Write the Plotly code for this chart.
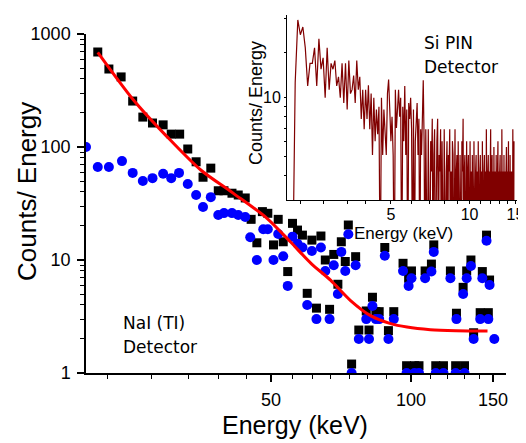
import numpy as np
import plotly.graph_objects as go

# ---------------- main plot data (NaI (Tl) detector) ----------------
nai_energy = [21.2, 22.4, 23.8, 25.2, 26.5, 27.8, 29.3, 30.5, 31.8, 33.1, 34.5, 35.7, 37.1, 38.5, 39.6,
              41.2, 42.5, 44.0, 45.3, 46.6, 47.9, 49.2, 50.6, 51.8, 53.1, 54.3, 55.6, 57.0, 58.4, 59.8,
              61.2, 62.6, 64.0, 65.4, 66.8, 68.2, 69.6, 70.8, 72.2, 73.3, 74.5, 76.0, 77.2, 80.1, 81.2,
              82.6, 84.0, 85.4, 87.8, 89.4, 91.8, 96.1, 97.8, 98.8, 100.2, 101.7, 104.0, 107.2, 110.6,
              111.9, 113.0, 117.4, 121.5, 124.7, 125.2, 129.4, 130.3, 131.7, 134.5, 136.3, 140.8, 142.3,
              145.3, 146.6, 147.5]
nai_counts = [693, 490, 417, 255, 184, 163, 157, 130, 130, 96, 74, 54, 65, 41, 41,
              39, 37.6, 35.4, 22.9, 14.2, 26.8, 25.9, 13.6, 22.9, 14.5, 7.9, 21.1, 18.4, 16.6, 5.07,
              15.0, 3.75, 16.3, 10.0, 3.66, 11.2, 6.1, 14.5, 9.7, 20.4, 1.2, 10.7, 2.4, 3.54, 2.4,
              4.68, 3.49, 3.49, 12.9, 2.37, 3.49, 9.35, 1.16, 6.9, 8.0, 1.16, 1.16, 8.0, 9.2,
              13.6, 1.16, 1.16, 8.0, 1.16, 3.38, 5.73, 1.16, 8.0, 10.0, 2.27, 3.42, 7.9,
              16.6, 3.42, 6.65]

blue_energy = [20.0, 21.2, 22.4, 23.9, 25.2, 26.5, 27.8, 29.3, 30.5, 31.7, 33.1, 34.5, 35.7, 37.1, 38.5,
               39.6, 41.2, 42.5, 44.0, 45.1, 46.6, 48.1, 49.2, 50.6, 51.8, 53.1, 54.3, 55.6, 57.0, 58.4,
               59.8, 61.2, 62.6, 64.0, 65.4, 66.8, 68.2, 69.6, 70.8, 72.2, 73.3, 74.5, 76.0, 77.2, 80.1,
               81.2, 82.6, 84.0, 85.4, 87.8, 89.4, 91.8, 96.1, 97.8, 98.8, 100.2, 101.7, 104.0, 107.2,
               110.6, 111.9, 113.0, 117.4, 121.5, 124.7, 125.2, 129.4, 130.3, 131.7, 134.5, 136.3, 140.8,
               142.3, 145.3, 146.6, 147.5, 151.0]
blue_counts = [100, 66.5, 66.5, 75, 59, 50, 53, 58, 53, 59, 47, 37.6, 29.4, 36, 25,
               26, 26, 25, 24, 15.9, 10, 18.7, 18.7, 10, 17, 10.8, 5.9, 16.1, 13.9, 12.9,
               4.0, 12, 3.0, 12.9, 8.0, 3.0, 9.0, 5.0, 11.8, 8.0, 16.9, 1.0, 9.0, 2.0, 3.0,
               2.0, 3.92, 3.0, 3.0, 10.9, 2.0, 3.0, 8.0, 1.0, 5.9, 6.9, 1.0, 1.0, 6.9,
               7.9, 11.8, 1.0, 1.0, 6.9, 1.0, 3.0, 5.0, 1.0, 6.9, 8.86, 2.0, 3.0,
               6.9, 14.8, 3.0, 6.0, 2.0]

fit_energy = [21.2, 25.3, 29.9, 35.3, 41.5, 49.0, 55.0, 61.0, 67.2, 74.0, 82.0, 90.0, 98.0, 110.0, 125.0, 146.0]
fit_counts = [689, 261, 123, 62.6, 38.9, 23.4, 14.5, 9.3, 6.6, 4.4, 3.2, 2.75, 2.55, 2.42, 2.37, 2.35]

# ---------------- inset data (Si PIN detector) ----------------
sipin_start, sipin_step = 2.10, 0.05
sipin_counts = [
    1, 12, 25, 21, 23, 18, 11.5, 15, 15, 18, 11.5, 20, 14, 16, 10, 18, 11, 15,
    14, 15.5, 11.5, 12.8, 10, 15, 9.4, 15, 8.7, 15.5, 10.5, 11, 13, 9.4, 15.5, 11, 12.8, 7.8, 11, 6.9,
    11, 7.8, 11.6, 6.9, 10.5, 5.1, 10, 6, 8.7, 6.5, 9, 1, 10, 5.1, 8.7, 6, 5.1, 10.5, 12.4, 8.7,
    6, 8, 5.1, 1, 11, 7,
    9.4, 11, 8, 10, 1, 9, 6, 11.5, 5.1, 8.7,
    1, 9.4, 7.8, 10, 6.9, 1, 8.7, 1, 6, 7.8,
    9.4, 5.1, 7.8, 1, 6.9, 5.1, 8.7, 12.3, 6, 1,
    6.9, 4.2, 1, 6.9, 5.1, 1, 6, 4.2, 7.8, 1,
    5.1, 6.9, 1, 4.2, 6, 7.8, 1, 5.1, 4.2, 6.9,
    1, 6, 4.2, 1, 6.9, 5.1, 1, 4.2, 6, 1,
    5.1, 4.2, 6.9, 1, 4.2, 1, 6, 5.1, 1, 4.2,
    6.9, 1, 4.2, 5.1, 1, 6, 4.2, 1, 5.1, 4.2,
    1, 6, 4.2, 7.8, 1, 4.2, 5.1, 1, 4.2, 6,
    1, 4.2, 5.1, 1, 4.2, 6, 1, 4.2, 1, 5.1,
    4.2, 1, 6, 4.2, 1, 4.2, 5.1, 1, 4.2, 1,
    6, 4.2, 1, 4.2, 5.1, 1, 4.2, 1, 6, 4.2,
    1, 4.2, 5.1, 1, 4.2, 1, 6.9, 4.2, 1, 4.2,
    5.1, 1, 4.2, 1, 4.2, 6.9, 1, 4.2, 5.1, 1,
    4.2, 1, 5.6, 4.2, 1, 4.2, 1, 5.1, 4.2, 1,
    4.2, 6, 1, 4.2, 1, 4.2, 5.1, 1, 4.2, 1,
    6.9, 4.2, 1, 4.2, 1, 5.1, 4.2, 1, 4.2, 1,
    4.2, 5.6, 1, 4.2, 1, 4.2, 6, 1, 4.2, 1,
    5.1, 4.2, 1, 4.2, 1, 4.2, 1, 6.9, 4.2, 1,
    6,
]
sipin_energy = np.round(sipin_start + sipin_step * np.arange(len(sipin_counts)), 2)

# ---------------- tick labels ----------------
main_x_ticks = [50, 100, 150]
main_x_minor = [22.2, 27.7, 33.2, 38.6, 44.3, 55.7, 61.3, 67.2, 73.7, 80.4, 88.6, 110, 120, 130, 140]
main_y_ticks = [1, 10, 100, 1000]
main_y_minor = [d * m for m in (1, 10, 100) for d in range(2, 10)]
inset_x_ticks = [5, 10, 15]
inset_x_minor = [2.25, 2.75, 3.4, 4, 6, 7, 8, 9, 11, 12, 13, 14]
inset_y_ticks = [10]
inset_y_minor = [4, 5, 6, 7, 8, 9, 17, 25.5]

W, H = 526, 443
OFF = 8  # page body margin offset of the rendered figure


def px(x):
    return (x - OFF) / W


def py(y):
    return 1 - (y - OFF) / H


fig = go.Figure()
fig.add_trace(go.Scatter(x=nai_energy, y=nai_counts, mode="markers",
                         marker=dict(symbol="square", size=9, color="black"),
                         xaxis="x", yaxis="y"))
fig.add_trace(go.Scatter(x=blue_energy, y=blue_counts, mode="markers",
                         marker=dict(symbol="circle", size=10, color="#0000ff"),
                         xaxis="x", yaxis="y"))
fig.add_trace(go.Scatter(x=fit_energy, y=fit_counts, mode="lines",
                         line=dict(color="#ff0000", width=3, shape="spline", smoothing=0.8),
                         xaxis="x", yaxis="y"))
fig.add_trace(go.Scatter(x=sipin_energy, y=sipin_counts, mode="lines",
                         line=dict(color="#800000", width=1.2),
                         xaxis="x2", yaxis="y2"))

mainfont = dict(family="Liberation Sans, Arial", size=18, color="black")
insetfont = dict(family="Liberation Sans, Arial", size=16, color="black")
common = dict(showgrid=False, zeroline=False, showline=True, linecolor="black",
              ticks="outside", tickcolor="black", automargin=False)

fig.update_layout(
    width=W, height=H, margin=dict(l=0, r=0, t=0, b=0, autoexpand=False),
    paper_bgcolor="white", plot_bgcolor="white", showlegend=False,
    xaxis=dict(type="log", range=[np.log10(20), np.log10(160)], domain=[px(86), px(506)],
               anchor="y", linewidth=1.5, tickwidth=1.5, ticklen=7, ticklabelstandoff=3,
               tickfont=mainfont,
               tickvals=main_x_ticks, ticktext=[str(v) for v in main_x_ticks],
               minor=dict(tickvals=main_x_minor, ticks="outside", ticklen=4, tickwidth=1.2,
                          tickcolor="black", showgrid=False),
               **common),
    yaxis=dict(type="log", range=[0, 3], domain=[py(373), py(34)],
               anchor="x", linewidth=1.5, tickwidth=1.5, ticklen=7, ticklabelstandoff=3,
               tickfont=mainfont,
               tickvals=main_y_ticks, ticktext=[str(v) for v in main_y_ticks],
               minor=dict(tickvals=main_y_minor, ticks="outside", ticklen=4, tickwidth=1.2,
                          tickcolor="black", showgrid=False),
               **common),
    xaxis2=dict(type="log", range=[np.log10(2.0), np.log10(15.2)], domain=[px(287), px(517)],
                anchor="y2", linewidth=1, tickwidth=1, ticklen=3, ticklabelstandoff=-3,
                tickfont=insetfont,
                tickvals=inset_x_ticks, ticktext=[str(v) for v in inset_x_ticks],
                minor=dict(tickvals=inset_x_minor, ticks="outside", ticklen=3, tickwidth=1,
                           tickcolor="black", showgrid=False),
                **common),
    yaxis2=dict(type="log", range=[np.log10(3), np.log10(26.5)], domain=[py(200), py(15)],
                anchor="x2", linewidth=1, tickwidth=1, ticklen=2, tickfont=insetfont,
                tickvals=inset_y_ticks, ticktext=[str(v) for v in inset_y_ticks],
                minor=dict(tickvals=inset_y_minor, ticks="outside", ticklen=2, tickwidth=1,
                           tickcolor="black", showgrid=False),
                **common),
)


def note(text, x, y, size, family="Liberation Sans, Arial", angle=0, xanchor="center"):
    fig.add_annotation(text=text, x=px(x), y=py(y), xref="paper", yref="paper",
                       showarrow=False, textangle=angle, xanchor=xanchor, yanchor="middle",
                       font=dict(family=family, size=size, color="black"))


note("Counts/ Energy", 27, 192, 26, angle=-90)
note("Energy (keV)", 295, 425, 25)
note("Counts/ Energy", 256, 103, 18, angle=-90)
note("Energy (keV)", 403, 233, 17)
note("NaI (TI)", 121, 323, 17, family="DejaVu Sans", xanchor="left")
note("Detector", 121, 347, 17, family="DejaVu Sans", xanchor="left")
note("Si PIN", 422, 43, 17, family="DejaVu Sans", xanchor="left")
note("Detector", 422, 67, 17, family="DejaVu Sans", xanchor="left")

fig.write_html("out.html")
